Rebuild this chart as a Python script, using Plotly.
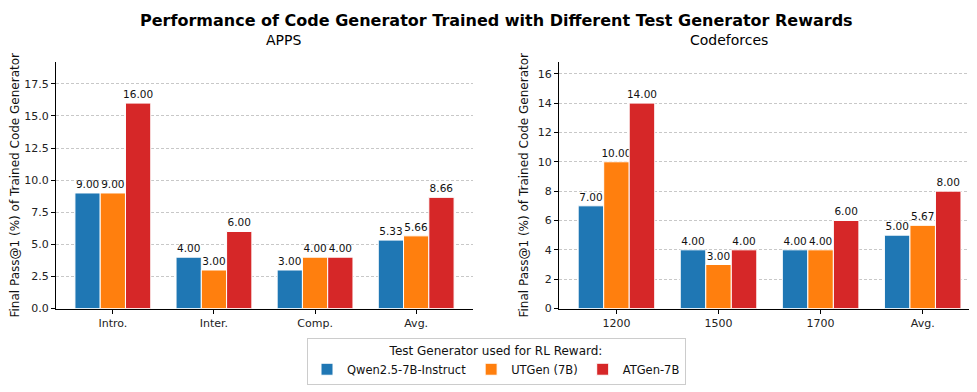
import plotly.graph_objects as go

# APPS results
apps_categories = ['Intro.', 'Inter.', 'Comp.', 'Avg.']
apps_qwen = [9.00, 4.00, 3.00, 5.33]
apps_utgen = [9.00, 3.00, 4.00, 5.66]
apps_atgen = [16.00, 6.00, 4.00, 8.66]

# Codeforces results
cf_categories = ['1200', '1500', '1700', 'Avg.']
cf_qwen = [7.00, 4.00, 4.00, 5.00]
cf_utgen = [10.00, 3.00, 4.00, 5.67]
cf_atgen = [14.00, 4.00, 6.00, 8.00]

series_names = ['Qwen2.5-7B-Instruct', 'UTGen (7B)', 'ATGen-7B']
series_colors = ['#1f77b4', '#ff7f0e', '#d62728']

fig = go.Figure()

apps_series = [apps_qwen, apps_utgen, apps_atgen]
cf_series = [cf_qwen, cf_utgen, cf_atgen]

for i in range(3):
    fig.add_trace(go.Bar(
        x=apps_categories, y=apps_series[i], name=series_names[i],
        marker=dict(color=series_colors[i], line=dict(color='white', width=1)),
        texttemplate='%{y:.2f}', textposition='outside', cliponaxis=False,
        constraintext='none',
        textfont=dict(size=10.5, color='#111111', family='DejaVu Sans'),
        offsetgroup=str(i), legendgroup=str(i),
        xaxis='x', yaxis='y'))
    fig.add_trace(go.Bar(
        x=cf_categories, y=cf_series[i], name=series_names[i],
        marker=dict(color=series_colors[i], line=dict(color='white', width=1)),
        texttemplate='%{y:.2f}', textposition='outside', cliponaxis=False,
        constraintext='none',
        textfont=dict(size=10.5, color='#111111', family='DejaVu Sans'),
        offsetgroup=str(i), legendgroup=str(i), showlegend=False,
        xaxis='x2', yaxis='y2'))

axis_font = dict(family='DejaVu Sans', size=11, color='#222222')
ytitle = 'Final Pass@1 (%) of Trained Code Generator'

common_x = dict(type='category', range=[-0.5625, 3.5625], showline=True, linecolor='black',
                linewidth=1, ticks='outside', ticklen=4, tickcolor='black',
                tickfont=axis_font, showgrid=False, zeroline=False)
common_y = dict(showline=True, linecolor='black', linewidth=1, ticks='outside', ticklen=4,
                tickcolor='black', tickfont=axis_font, showgrid=True, gridcolor='#c8c8c8',
                griddash='3px,2px', gridwidth=0.8, zeroline=False,
                title=dict(text=ytitle, font=dict(family='DejaVu Sans', size=12, color='#111111'),
                           standoff=6))

fig.update_layout(
    xaxis=dict(domain=[0.0491, 0.476], anchor='y', **common_x),
    yaxis=dict(domain=[0.2194, 0.8597], anchor='x', range=[0, 19.2], dtick=2.5,
               tickformat='.1f', **common_y),
    xaxis2=dict(domain=[0.564, 0.995], anchor='y2', **common_x),
    yaxis2=dict(domain=[0.2194, 0.8597], anchor='x2', range=[0, 16.8], dtick=2,
                **common_y),
    barmode='group', bargap=0.25, bargroupgap=0,
    width=977, height=392,
    margin=dict(l=0, r=0, t=0, b=0),
    plot_bgcolor='white', paper_bgcolor='white',
    font=dict(family='DejaVu Sans', color='#111111'),
    annotations=[
        dict(text='<b>Performance of Code Generator Trained with Different Test Generator Rewards</b>',
             x=0.5, y=1 - 13 / 392, xref='paper', yref='paper', yanchor='middle', showarrow=False,
             font=dict(size=16, family='DejaVu Sans', color='black')),
        dict(text='APPS', x=0.2625, y=1 - 33 / 392, xref='paper', yref='paper',
             yanchor='middle', showarrow=False,
             font=dict(size=14, family='DejaVu Sans', color='black')),
        dict(text='Codeforces', x=0.7795, y=1 - 33 / 392, xref='paper', yref='paper',
             yanchor='middle', showarrow=False,
             font=dict(size=14, family='DejaVu Sans', color='black')),
    ],
    legend=dict(orientation='h', x=0.5, xanchor='center', y=8 / 392, yanchor='bottom',
                bgcolor='white', bordercolor='#cccccc', borderwidth=1, itemwidth=30,
                font=dict(family='DejaVu Sans', size=11.5, color='#111111'),
                title=dict(text='Test Generator used for RL Reward:', side='top center',
                           font=dict(family='DejaVu Sans', size=12, color='#111111'))),
)

fig.write_html('out.html')
